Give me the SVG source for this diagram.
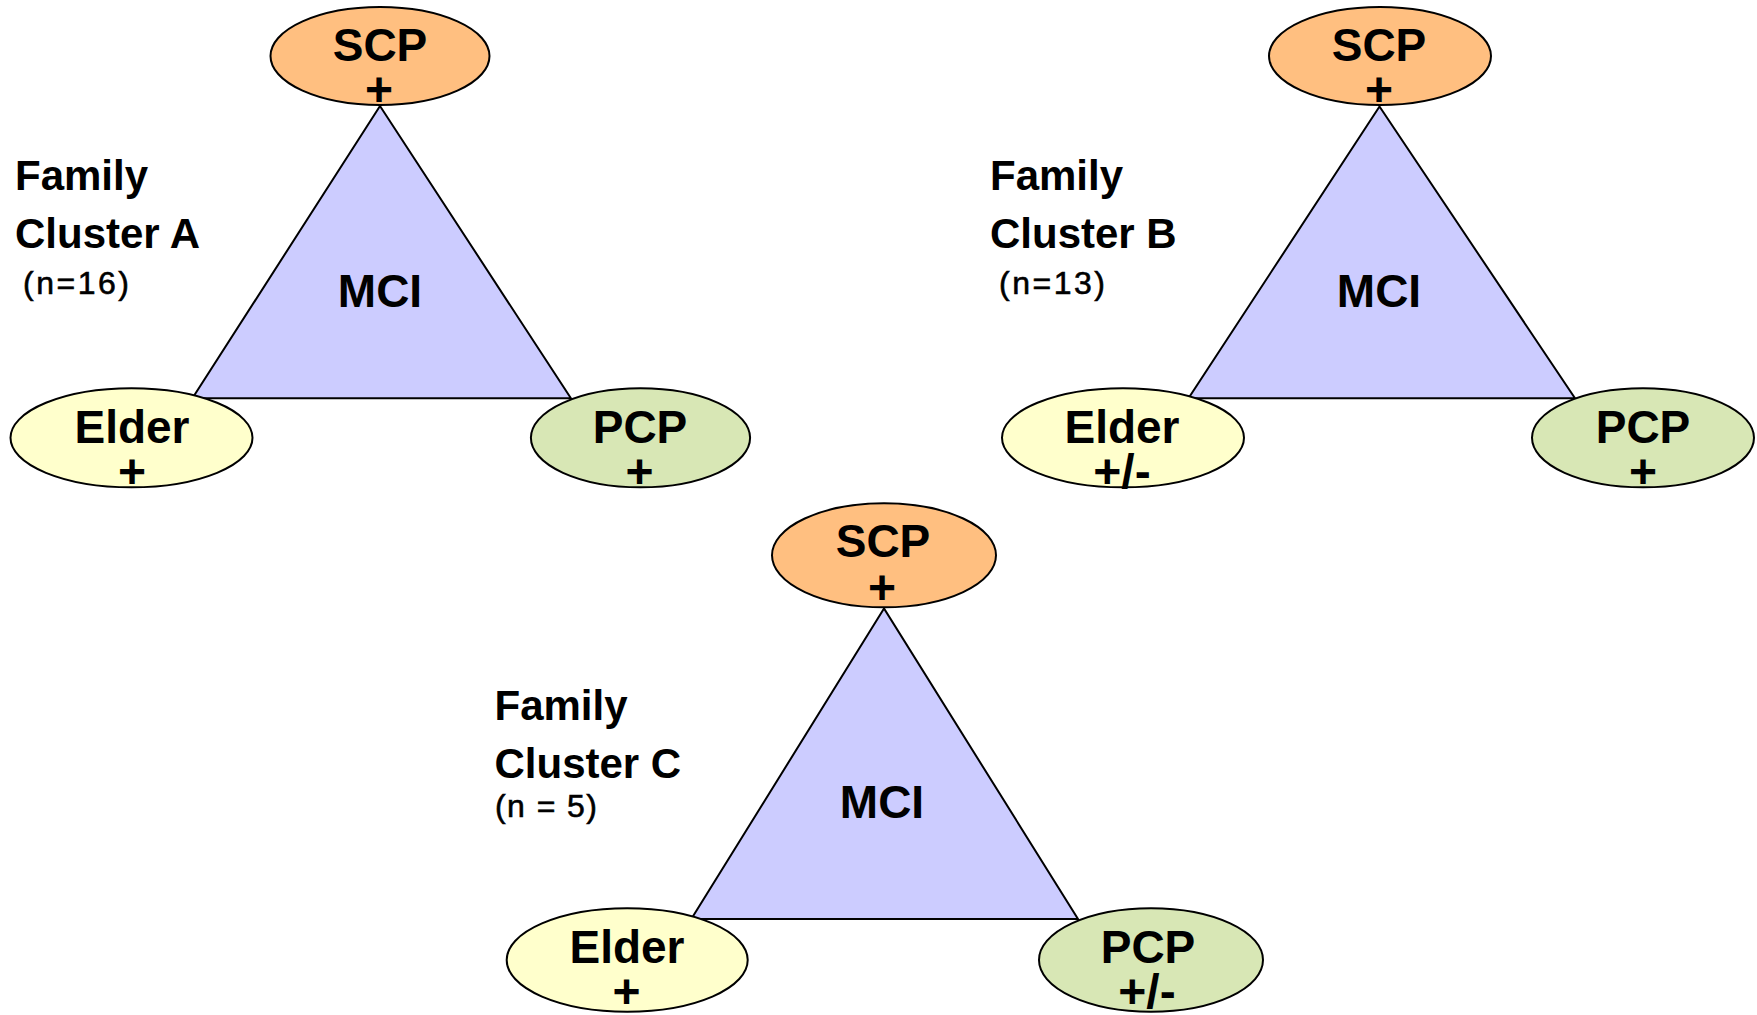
<svg xmlns="http://www.w3.org/2000/svg" width="1757" height="1015" viewBox="0 0 1757 1015">
<style>
  .tri { fill: #CCCCFF; stroke: #000; stroke-width: 2; stroke-linejoin: miter; }
  .scp { fill: #FFBF80; stroke: #000; stroke-width: 2; }
  .eld { fill: #FFFFCC; stroke: #000; stroke-width: 2; }
  .pcp { fill: #D8E7B5; stroke: #000; stroke-width: 2; }
  .lbl { font-family: "Liberation Sans", Arial, sans-serif; font-weight: bold; font-size: 46px; text-anchor: middle; fill: #000; }
  .sgn { font-family: "Liberation Sans", Arial, sans-serif; font-weight: bold; font-size: 48px; text-anchor: middle; fill: #000; }
  .ttl { font-family: "Liberation Sans", Arial, sans-serif; font-weight: bold; font-size: 42px; fill: #000; }
  .cnt { font-family: "Liberation Sans", Arial, sans-serif; font-weight: normal; font-size: 32px; fill: #000; stroke: #000; stroke-width: 0.6; }
</style>
<rect width="1757" height="1015" fill="#FFFFFF"/>

<!-- Cluster A -->
<g id="cluster-a-title">
  <text class="ttl" x="15" y="190">Family</text>
  <text class="ttl" x="15" y="248">Cluster A</text>
  <text class="cnt" x="23" y="293.5" textLength="106" lengthAdjust="spacing">(n=16)</text>
</g>
<g id="mci-a">
  <polygon class="tri" points="380,106 192.4,398.3 570.9,398.3"/>
  <text class="lbl" x="380" y="307">MCI</text>
</g>
<g id="scp-a">
  <ellipse class="scp" cx="380" cy="56" rx="109.5" ry="49"/>
  <text class="lbl" x="380" y="61">SCP</text>
  <text class="sgn" x="379" y="106">+</text>
</g>
<g id="elder-a">
  <ellipse class="eld" cx="131.5" cy="437.8" rx="121" ry="49.5"/>
  <text class="lbl" x="132" y="443.3">Elder</text>
  <text class="sgn" x="132" y="487.5">+</text>
</g>
<g id="pcp-a">
  <ellipse class="pcp" cx="640.5" cy="437.8" rx="109.6" ry="49.5"/>
  <text class="lbl" x="640" y="443.3">PCP</text>
  <text class="sgn" x="639.5" y="487.5">+</text>
</g>

<!-- Cluster B -->
<g id="cluster-b-title">
  <text class="ttl" x="990" y="190">Family</text>
  <text class="ttl" x="990" y="248">Cluster B</text>
  <text class="cnt" x="999" y="293.5" textLength="106" lengthAdjust="spacing">(n=13)</text>
</g>
<g id="mci-b">
  <polygon class="tri" points="1379.5,106.5 1188.5,398.3 1575,398.3"/>
  <text class="lbl" x="1379" y="307">MCI</text>
</g>
<g id="scp-b">
  <ellipse class="scp" cx="1380" cy="56" rx="111" ry="49"/>
  <text class="lbl" x="1379" y="61">SCP</text>
  <text class="sgn" x="1379" y="106">+</text>
</g>
<g id="elder-b">
  <ellipse class="eld" cx="1123" cy="437.8" rx="121" ry="49.5"/>
  <text class="lbl" x="1122" y="443.3">Elder</text>
  <text class="sgn" x="1122" y="487.5">+/-</text>
</g>
<g id="pcp-b">
  <ellipse class="pcp" cx="1643" cy="437.8" rx="111" ry="49.5"/>
  <text class="lbl" x="1643" y="443.3">PCP</text>
  <text class="sgn" x="1643" y="487.5">+</text>
</g>

<!-- Cluster C -->
<g id="cluster-c-title">
  <text class="ttl" x="494.5" y="720">Family</text>
  <text class="ttl" x="494.5" y="778.3">Cluster C</text>
  <text class="cnt" x="495" y="817" textLength="102" lengthAdjust="spacing">(n = 5)</text>
</g>
<g id="mci-c">
  <polygon class="tri" points="884,608.5 691.3,919 1078,919"/>
  <text class="lbl" x="882" y="818.3">MCI</text>
</g>
<g id="scp-c">
  <ellipse class="scp" cx="884" cy="555.3" rx="112" ry="52"/>
  <text class="lbl" x="883" y="556.7">SCP</text>
  <text class="sgn" x="882" y="603.5">+</text>
</g>
<g id="elder-c">
  <ellipse class="eld" cx="627.2" cy="960" rx="120.5" ry="51.7"/>
  <text class="lbl" x="627" y="963.3">Elder</text>
  <text class="sgn" x="626.5" y="1008">+</text>
</g>
<g id="pcp-c">
  <ellipse class="pcp" cx="1151" cy="960" rx="112" ry="51.7"/>
  <text class="lbl" x="1148" y="963.3">PCP</text>
  <text class="sgn" x="1147" y="1008">+/-</text>
</g>
</svg>
